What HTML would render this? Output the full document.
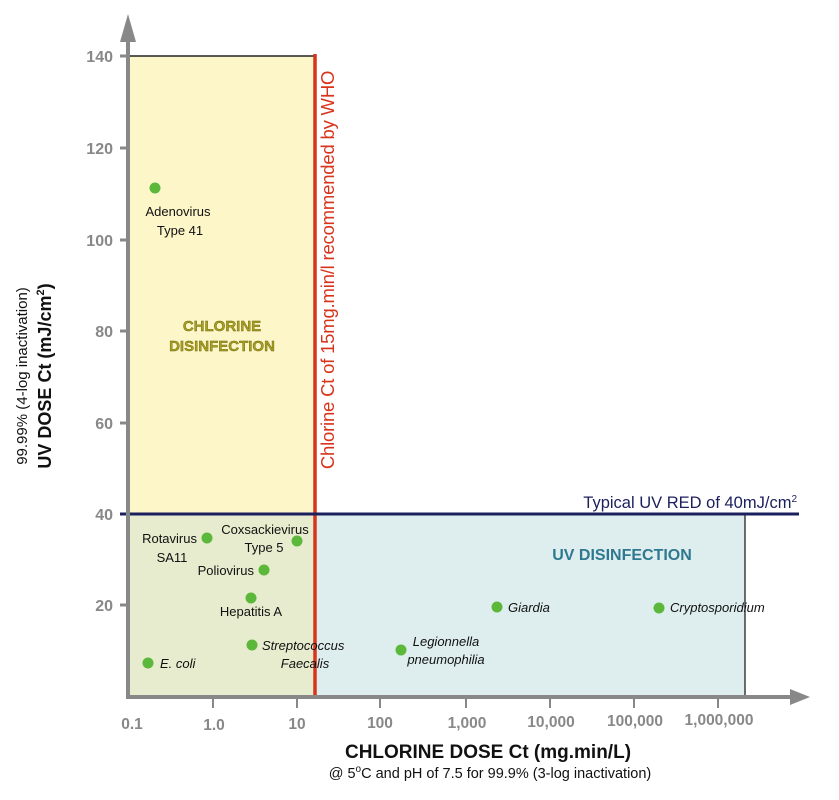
<!DOCTYPE html>
<html><head><meta charset="utf-8"><style>
html,body{margin:0;padding:0;background:#fff;}
svg{display:block;font-family:"Liberation Sans",sans-serif;}
</style></head><body>
<svg width="839" height="800" viewBox="0 0 839 800" xmlns="http://www.w3.org/2000/svg">
<rect x="130" y="56" width="184" height="458" fill="#fdf6c8"/>
<rect x="130" y="514" width="184" height="183" fill="#e6eccd"/>
<rect x="316" y="514" width="429" height="183" fill="#deeeee"/>
<line x1="130" y1="56" x2="314" y2="56" stroke="#222" stroke-width="1.5"/>
<line x1="745" y1="514" x2="745" y2="697" stroke="#111" stroke-width="1.2"/>
<line x1="315" y1="54" x2="315" y2="697" stroke="#d8341c" stroke-width="3.5"/>
<line x1="120" y1="514" x2="799" y2="514" stroke="#1b1f5e" stroke-width="3"/>
<line x1="128" y1="28" x2="128" y2="698" stroke="#888" stroke-width="4"/>
<polygon points="128,14 120,42 136,42" fill="#888"/>
<line x1="126" y1="697" x2="795" y2="697" stroke="#888" stroke-width="4"/>
<polygon points="810,697 790,689 790,705" fill="#888"/>
<g stroke="#888" stroke-width="3">
<line x1="120" y1="56" x2="128" y2="56"/><line x1="120" y1="148" x2="128" y2="148"/>
<line x1="120" y1="240" x2="128" y2="240"/><line x1="120" y1="331" x2="128" y2="331"/>
<line x1="120" y1="423" x2="128" y2="423"/><line x1="120" y1="605" x2="128" y2="605"/>
</g>
<g font-size="16" font-weight="bold" fill="#888" text-anchor="end">
<text x="113" y="62">140</text><text x="113" y="154">120</text><text x="113" y="246">100</text>
<text x="113" y="337">80</text><text x="113" y="429">60</text><text x="113" y="520">40</text><text x="113" y="611">20</text>
</g>
<g stroke="#888" stroke-width="2">
<line x1="213" y1="699" x2="213" y2="708"/><line x1="297" y1="699" x2="297" y2="708"/>
<line x1="380" y1="699" x2="380" y2="708"/><line x1="466" y1="699" x2="466" y2="708"/>
<line x1="550" y1="699" x2="550" y2="708"/><line x1="634" y1="699" x2="634" y2="708"/>
<line x1="718" y1="699" x2="718" y2="708"/>
</g>
<g font-size="15.5" font-weight="bold" fill="#888" text-anchor="middle">
<text x="132" y="729">0.1</text><text x="214" y="730">1.0</text><text x="297" y="729">10</text>
<text x="380" y="728">100</text><text x="467" y="728">1,000</text><text x="551" y="727">10,000</text>
<text x="635" y="726">100,000</text><text x="719" y="725">1,000,000</text>
</g>
<text x="488" y="758" font-size="19" font-weight="bold" fill="#111" text-anchor="middle">CHLORINE DOSE Ct (mg.min/L)</text>
<text x="490" y="778" font-size="14.5" fill="#111" text-anchor="middle">@ 5<tspan font-size="10" dy="-6">o</tspan><tspan dy="6">C and pH of 7.5 for 99.9% (3-log inactivation)</tspan></text>
<g transform="translate(27,376) rotate(-90)"><text x="0" y="0" font-size="15" fill="#111" text-anchor="middle">99.99% (4-log inactivation)</text></g>
<g transform="translate(51,376) rotate(-90)"><text x="0" y="0" font-size="18" font-weight="bold" fill="#111" text-anchor="middle">UV DOSE Ct (mJ/cm<tspan font-size="11" dy="-7">2</tspan><tspan dy="7">)</tspan></text></g>
<g transform="translate(334,270) rotate(-90)"><text x="0" y="0" font-size="18.5" fill="#d8341c" text-anchor="middle" letter-spacing="-0.2">Chlorine Ct of 15mg.min/l recommended by WHO</text></g>
<text x="797" y="508" font-size="16.5" fill="#1b1f5e" text-anchor="end">Typical UV RED of 40mJ/cm<tspan font-size="10" dy="-6">2</tspan></text>
<g font-size="15" font-weight="bold" fill="#a8a020" text-anchor="middle" stroke="#6a6410" stroke-width="0.4">
<text x="222" y="331">CHLORINE</text><text x="222" y="351">DISINFECTION</text></g>
<text x="622" y="560" font-size="16" font-weight="bold" fill="#2e7890" text-anchor="middle">UV DISINFECTION</text>
<g fill="#5cb83a">
<circle cx="155" cy="188" r="5.5"/><circle cx="207" cy="538" r="5.5"/><circle cx="297" cy="541" r="5.5"/>
<circle cx="264" cy="570" r="5.5"/><circle cx="251" cy="598" r="5.5"/><circle cx="497" cy="607" r="5.5"/>
<circle cx="659" cy="608" r="5.5"/><circle cx="252" cy="645" r="5.5"/><circle cx="401" cy="650" r="5.5"/>
<circle cx="148" cy="663" r="5.5"/>
</g>
<g font-size="13" fill="#111">
<text x="178" y="216" text-anchor="middle">Adenovirus</text><text x="180" y="235" text-anchor="middle">Type 41</text>
<text x="197" y="543" text-anchor="end">Rotavirus</text><text x="172" y="562" text-anchor="middle">SA11</text>
<text x="265" y="534" text-anchor="middle">Coxsackievirus</text><text x="264" y="552" text-anchor="middle">Type 5</text>
<text x="254" y="575" text-anchor="end">Poliovirus</text>
<text x="251" y="616" text-anchor="middle">Hepatitis A</text>
<text x="508" y="612" font-style="italic">Giardia</text>
<text x="670" y="612" font-style="italic">Cryptosporidium</text>
<text x="262" y="650" font-style="italic">Streptococcus</text><text x="305" y="668" text-anchor="middle" font-style="italic">Faecalis</text>
<text x="446" y="646" text-anchor="middle" font-style="italic">Legionnella</text><text x="446" y="664" text-anchor="middle" font-style="italic">pneumophilia</text>
<text x="160" y="668" font-style="italic">E. coli</text>
</g>
</svg>
</body></html>
